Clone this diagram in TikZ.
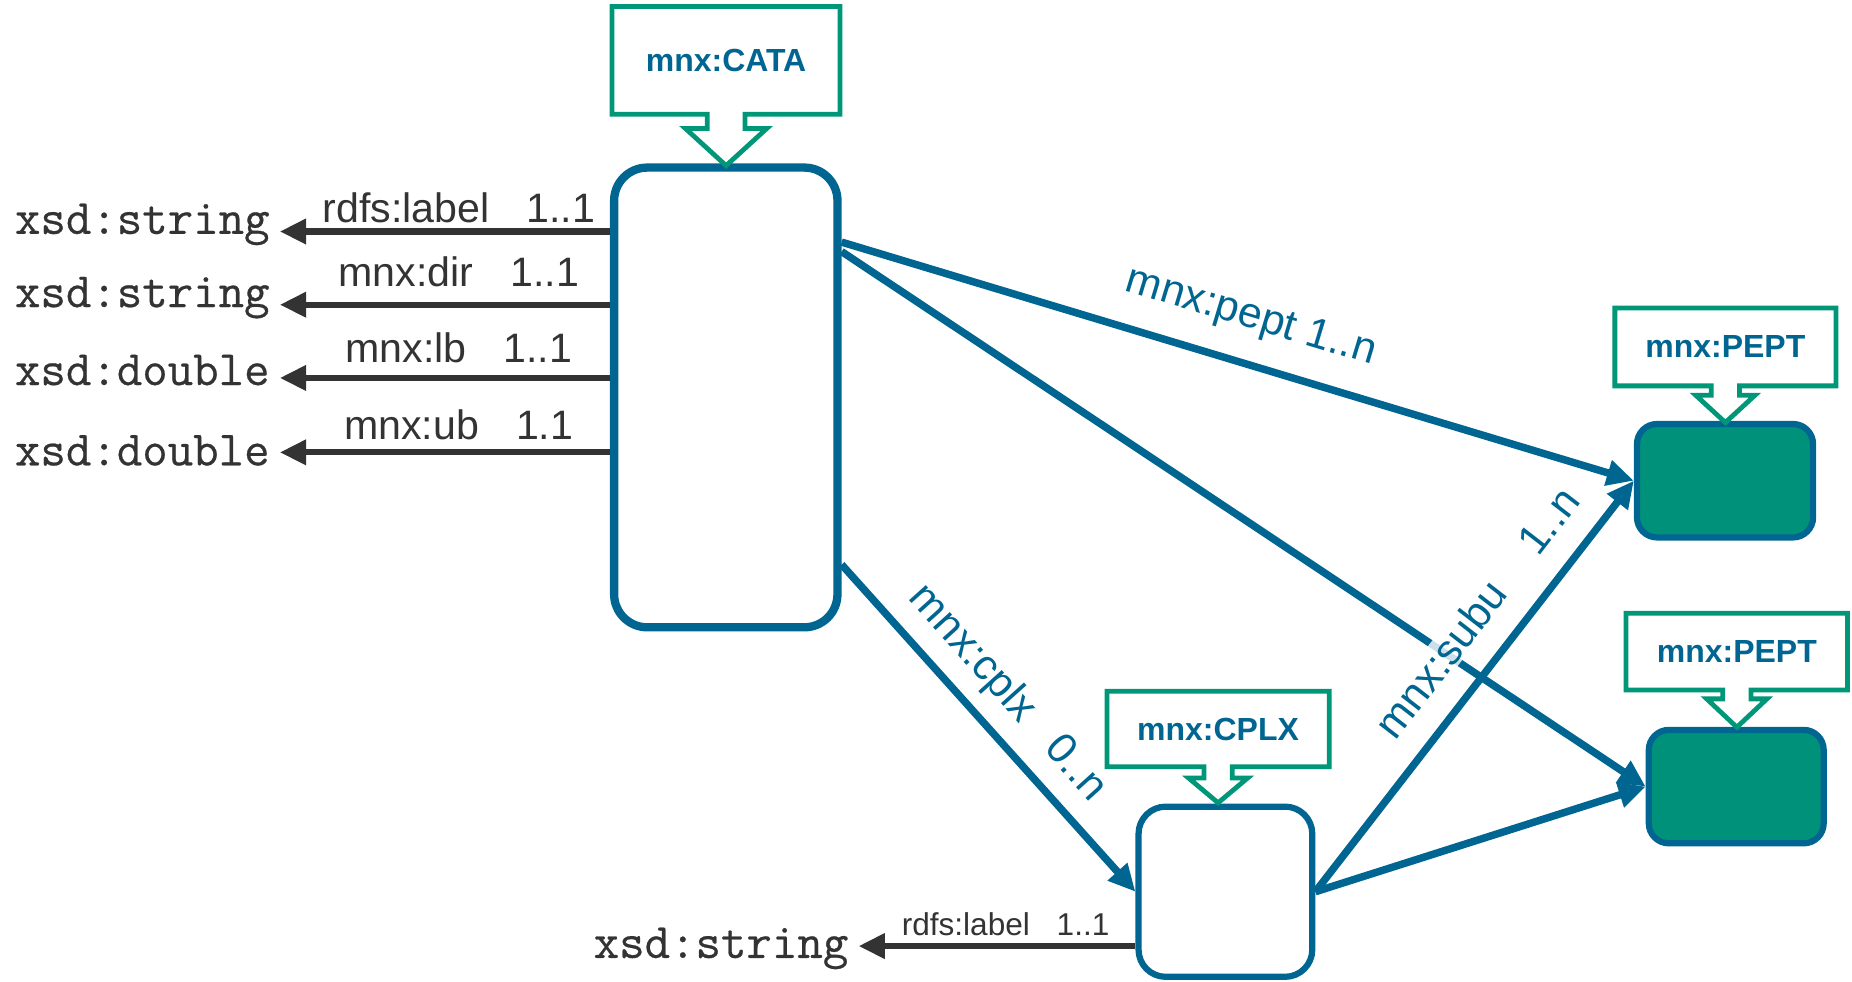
\documentclass[tikz,border=0pt]{standalone}
\usepackage{fontspec}
\setmainfont{Liberation Sans}
\newfontfamily\monof[FakeBold=0.5]{Latin Modern Mono}
\usetikzlibrary{arrows.meta,calc}
\definecolor{mblue}{HTML}{006691}
\definecolor{mgreen}{HTML}{009678}
\definecolor{mfill}{HTML}{00917A}
\definecolor{mdark}{HTML}{333333}
\newcommand\mktag[5]{%
  \draw[tagline] (#1.south west) -- (#1.north west) -- (#1.north east) -- (#1.south east)
   -- ($(#1.south)+(#2,0)$) -- ($(#1.south)+(#2,#4)$) -- ($(#1.south)+(#3,#4)$)
   -- ($(#1.south)+(0,#4+#5)$) -- ($(#1.south)+(-#3,#4)$) -- ($(#1.south)+(-#2,#4)$)
   -- ($(#1.south)+(-#2,0)$) -- cycle;}
\begin{document}
\begin{tikzpicture}[x=0.01cm,y=-0.01cm,
  mainbox/.style={draw=mblue, line width=2pt, rounded corners=0.28cm, fill=white, inner sep=0},
  peptbox/.style={draw=mblue, line width=1.5pt, rounded corners=0.17cm, fill=mfill, minimum width=1.49cm, minimum height=0.96cm, inner sep=0},
  cplxbox/.style={draw=mblue, line width=1.5pt, rounded corners=0.23cm, fill=white, inner sep=0, minimum width=1.47cm, minimum height=1.44cm},
  tag/.style={inner sep=0, text=mblue, font=\fontsize{7.7pt}{9pt}\selectfont\bfseries},
  tagline/.style={draw=mgreen, line width=1.15pt, line join=miter},
  mono/.style={font=\monof\fontsize{11.9pt}{13pt}\selectfont, text=mdark, inner ysep=0, inner xsep=0.08cm},
  dlabel/.style={font=\fontsize{9.9pt}{11pt}\selectfont, text=mdark, inner sep=0},
  slabel/.style={font=\fontsize{7.6pt}{9pt}\selectfont, text=mdark, inner sep=0},
  blabel/.style={font=\fontsize{10.3pt}{12pt}\selectfont, text=mblue, inner sep=0},
  darrow/.style={draw=mdark, line width=1.5pt, -{Triangle[length=6.3pt,width=5.8pt]}},
  barrow/.style={draw=mblue, line width=1.8pt, -{Triangle[length=6.5pt,width=6pt]}},
]
\useasboundingbox (0,0) rectangle (1568,831);

% main boxes
\node[mainbox, minimum width=1.89cm, minimum height=3.89cm] (cata) at (614.5,336.5) {};
\node[peptbox] (pept1) at (1460.5,407) {};
\node[peptbox, minimum width=1.48cm] (pept2) at (1470,666) {};
\node[cplxbox] (cplx) at (1037.5,755) {};

% tags
\node[tag, minimum width=1.915cm, minimum height=0.898cm] (tcata) at (614.75,51.1) {mnx:CATA};
\node[tag, minimum width=1.856cm, minimum height=0.645cm] (tpept1) at (1460.8,293.75) {mnx:PEPT};
\node[tag, minimum width=1.86cm, minimum height=0.635cm] (tpept2) at (1470.5,551.75) {mnx:PEPT};
\node[tag, minimum width=1.866cm, minimum height=0.625cm] (tcplx) at (1031.3,617.25) {mnx:CPLX};
\mktag{tcata}{16}{34.5}{12}{31.5}
\mktag{tpept1}{12}{25}{8}{23}
\mktag{tpept2}{12}{25.5}{7.5}{24}
\mktag{tcplx}{12}{25}{9.5}{21}

% datatype nodes
\node[mono, anchor=base west] (s1) at (4,198) {xsd:string};
\node[mono, anchor=base west] (s2) at (4,260) {xsd:string};
\node[mono, anchor=base west] (d1) at (4,326) {xsd:double};
\node[mono, anchor=base west] (d2) at (4,394) {xsd:double};
\node[mono, anchor=base west] (s3) at (494,811) {xsd:string};

% dark arrows
\draw[darrow] ($(cata.west)+(0,-140.5)$) coordinate (o1) -- (o1 -| s1.east)
  node[dlabel, pos=0.458, anchor=base, yshift=0.08cm] {rdfs:label\hspace{0.9em}1..1};
\draw[darrow] ($(cata.west)+(0,-78.5)$) coordinate (o2) -- (o2 -| s2.east)
  node[dlabel, pos=0.458, anchor=base, yshift=0.15cm] {mnx:dir\hspace{0.9em}1..1};
\draw[darrow] ($(cata.west)+(0,-16.5)$) coordinate (o3) -- (o3 -| d1.east)
  node[dlabel, pos=0.458, anchor=base, yshift=0.13cm] {mnx:lb\hspace{0.9em}1..1};
\draw[darrow] ($(cata.west)+(0,46.5)$) coordinate (o4) -- (o4 -| d2.east)
  node[dlabel, pos=0.458, anchor=base, yshift=0.105cm] {mnx:ub\hspace{0.9em}1.1};
\draw[darrow] ($(cplx.west)+(0,46)$) coordinate (o5) -- (o5 -| s3.east)
  node[slabel, pos=0.469, anchor=base, yshift=0.09cm] {rdfs:label\hspace{0.85em}1..1};

% blue arrows
\draw[barrow] ($(cata.east)+(0,-131.5)$) -- (pept1.west)
  node[blabel, pos=0.5, sloped, anchor=base, yshift=0.30cm] {mnx:pept 1..n};
\draw[barrow] ($(cata.east)+(0,-123.5)$) -- (pept2.west);
\draw[barrow] ($(cata.east)+(0,141.5)$) -- (cplx.west)
  node[blabel, pos=0.47, sloped, anchor=base, yshift=0.22cm] {mnx:cplx\hspace{0.8em}0..n};
\draw[barrow] (cplx.east) -- (pept1.west)
  node[blabel, pos=0.615, sloped, anchor=base, yshift=0.24cm, fill=white, fill opacity=0.8, text opacity=1, inner sep=0.5pt] {mnx:subu\hspace{1.1em}1..n};
\draw[barrow] (cplx.east) -- (pept2.west);
\end{tikzpicture}
\end{document}
